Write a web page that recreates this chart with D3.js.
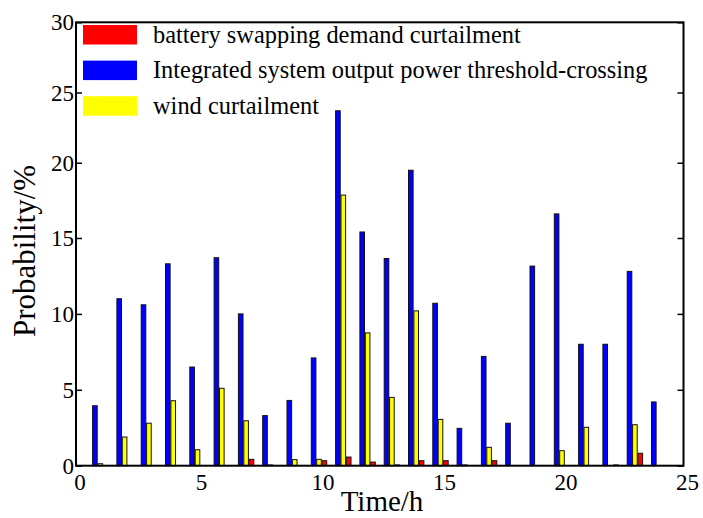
<!DOCTYPE html>
<html lang="en">
<head>
    <meta charset="utf-8">
    <script src="https://d3js.org/d3.v7.min.js"></script>
    <style type="text/css">
        body { margin: 0; background: #fff; }
        svg { display: block; }
        text { font-family: "Liberation Serif", "DejaVu Serif", serif; fill: #000; }
    </style>
</head>
<body>
<svg width="703" height="518"></svg>

<script type="text/javascript">

    // hours 1..24
    var hours = d3.range(1, 25);

    var blueVals = [3.95, 11.0, 10.6, 13.3, 6.5, 13.7, 10.0, 3.3, 4.3, 7.1, 23.7, 15.4,
                    13.65, 19.5, 10.7, 2.46, 7.2, 2.8, 13.15, 16.6, 8.0, 8.0, 12.8, 4.2];
    var yellowVals = [0.13, 1.89, 2.8, 4.28, 1.05, 5.1, 2.96, 0.05, 0.4, 0.42, 17.85, 8.75,
                      4.5, 10.2, 3.05, 0.05, 1.21, 0, 0, 0.99, 2.53, 0, 2.7, 0];
    var redVals = [0, 0, 0, 0, 0, 0, 0.42, 0, 0, 0.33, 0.57, 0.24,
                   0.05, 0.33, 0.33, 0, 0.33, 0, 0, 0, 0, 0.05, 0.82, 0];

    var legendNames = ["battery swapping demand curtailment",
                       "Integrated system output power threshold-crossing",
                       "wind curtailment"];
    var legendColors = ["#ff0000", "#0000ff", "#ffff00"];

    var xTicks = [0, 5, 10, 15, 20, 25];
    var yTicks = [0, 5, 10, 15, 20, 25, 30];

    // series as drawn, left to right inside each group
    var series = [
        {vals: blueVals, color: "#0000ff", off: -0.222},
        {vals: yellowVals, color: "#ffff00", off: 0},
        {vals: redVals, color: "#ff0000", off: 0.222}
    ];

    var svg = d3.select("svg");
    var pLeft = 76, pRight = 683.5, pTop = 22.3, pBottom = 465.7;

    var x = d3.scaleLinear().domain([0, 25]).range([pLeft, pRight]);
    // the source picture's y axis is not quite even, so match its tick rows
    var y = d3.scaleLinear().domain([0, 15, 20, 30]).range([pBottom, 238, 162.7, pTop]);

    var barW = x(0.19) - x(0);

    series.forEach(function (s) {
        svg.append("g")
            .selectAll("rect")
            .data(hours.map(function (h, i) { return {h: h, v: s.vals[i]}; })
                .filter(function (d) { return d.v > 0; }))
            .enter()
            .append("rect")
            .attr("x", function (d) { return x(d.h + s.off) - barW / 2; })
            .attr("y", function (d) { return y(d.v); })
            .attr("width", barW)
            .attr("height", function (d) { return y(0) - y(d.v); })
            .attr("fill", s.color)
            .attr("stroke", "#111")
            .attr("stroke-width", 1);
    });

    // frame
    svg.append("rect")
        .attr("x", pLeft).attr("y", pTop)
        .attr("width", pRight - pLeft).attr("height", pBottom - pTop)
        .attr("fill", "none")
        .attr("stroke", "#000")
        .attr("stroke-width", 2);

    // y ticks, inward on both sides
    var yAxisL = d3.axisRight(y).tickValues(yTicks).tickSize(6).tickFormat("");
    var yAxisR = d3.axisLeft(y).tickValues(yTicks).tickSize(6).tickFormat("");
    svg.append("g").attr("transform", "translate(" + pLeft + ",0)").call(yAxisL);
    svg.append("g").attr("transform", "translate(" + pRight + ",0)").call(yAxisR);
    svg.selectAll(".domain").remove();
    svg.selectAll(".tick line").attr("stroke", "#000").attr("stroke-width", 1.5);

    svg.append("g")
        .selectAll("text")
        .data(yTicks)
        .enter()
        .append("text")
        .attr("x", pLeft - 2)
        .attr("y", function (d) { return y(d) + 8; })
        .attr("text-anchor", "end")
        .style("font-size", "23px")
        .text(function (d) { return d; });

    svg.append("g")
        .selectAll("text")
        .data(xTicks)
        .enter()
        .append("text")
        .attr("x", function (d) { return x(d) + 4; })
        .attr("y", 490)
        .attr("text-anchor", "middle")
        .style("font-size", "23px")
        .text(function (d) { return d; });

    svg.append("text")
        .attr("x", 382)
        .attr("y", 511)
        .attr("text-anchor", "middle")
        .style("font-size", "29px")
        .text("Time/h");

    svg.append("text")
        .attr("transform", "translate(35,251) rotate(-90)")
        .attr("text-anchor", "middle")
        .style("font-size", "31px")
        .text("Probability/%");

    // legend, no box
    var legend = svg.append("g")
        .selectAll("g")
        .data(legendNames)
        .enter()
        .append("g")
        .attr("transform", function (d, i) { return "translate(83," + (25 + i * 35.6) + ")"; });

    legend.append("rect")
        .attr("width", 54)
        .attr("height", 19.5)
        .attr("fill", function (d, i) { return legendColors[i]; });

    legend.append("text")
        .attr("x", 70)
        .attr("y", 17.5)
        .style("font-size", "24.4px")
        .text(function (d) { return d; });

</script>
</body>
</html>
